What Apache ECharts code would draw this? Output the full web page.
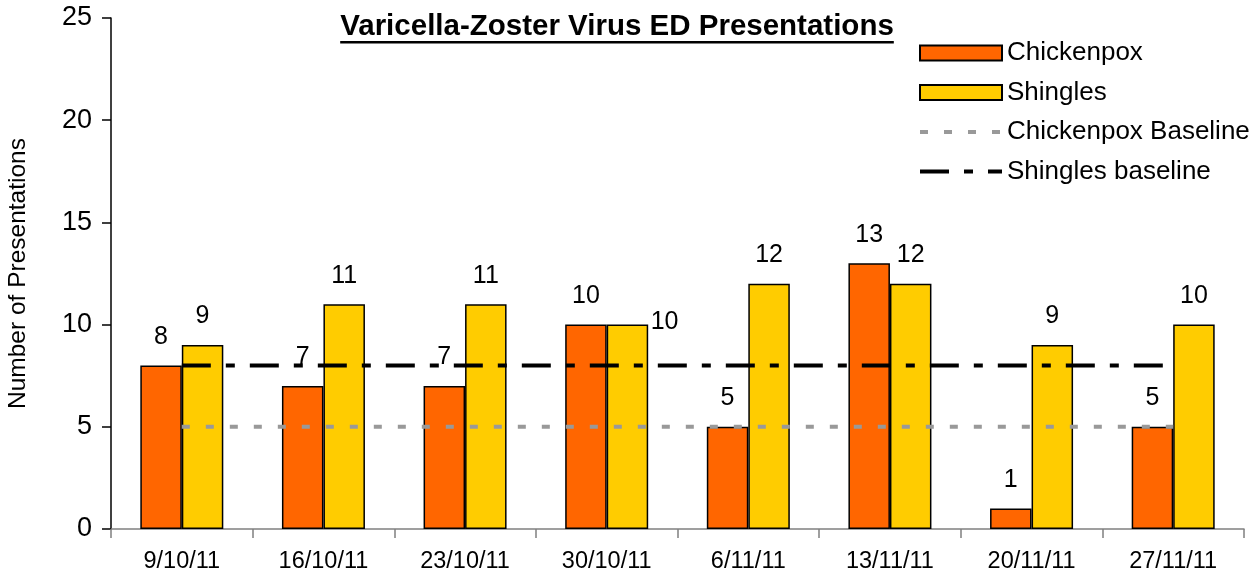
<!DOCTYPE html>
<html>
<head>
<meta charset="utf-8">
<title>Varicella-Zoster Virus ED Presentations</title>
<script src="https://cdn.jsdelivr.net/npm/echarts@6/dist/echarts.min.js"></script>
<style>
  html, body { margin: 0; padding: 0; background: #fff; }
  #chart { width: 1260px; height: 576px; }
</style>
</head>
<body>
<div id="chart"></div>
<script>
// ===== Data =====
const weeks = ['9/10/11', '16/10/11', '23/10/11', '30/10/11', '6/11/11', '13/11/11', '20/11/11', '27/11/11'];
const chickenpox = [8, 7, 7, 10, 5, 13, 1, 5];
const shingles = [9, 11, 11, 10, 12, 12, 9, 10];
const chickenpoxBaseline = [5, 5, 5, 5, 5, 5, 5, 5];
const shinglesBaseline = [8, 8, 8, 8, 8, 8, 8, 8];
const yTicks = [0, 5, 10, 15, 20, 25];

const FONT = '"Liberation Sans", Arial, sans-serif';
const TITLE = 'Varicella-Zoster Virus ED Presentations';

function initChart() {
  const chartDom = document.getElementById('chart');
  const myChart = echarts.init(chartDom, null, { renderer: 'canvas' });

  // title underline width from measured text
  const ctx = document.createElement('canvas').getContext('2d');
  ctx.font = 'bold 29.5px ' + FONT;
  const titleW = ctx.measureText(TITLE).width;
  const titleCx = 617;

  const labelStyle = {
    show: true,
    position: 'top',
    distance: 16,
    color: '#000',
    fontSize: 25,
    fontFamily: FONT
  };

  // the 30/10/11 shingles label sits beside the bar in the original
  const shinglesData = shingles.map((v, i) => i === 3
    ? { value: v, label: { position: ['106%', -2], verticalAlign: 'middle', align: 'left' } }
    : v);

  const option = {
    animation: false,
    textStyle: { fontFamily: FONT },
    graphic: [
      {
        type: 'text',
        left: titleCx - titleW / 2,
        top: 12,
        style: { text: TITLE, font: 'bold 29.5px ' + FONT, fill: '#000' }
      },
      {
        type: 'rect',
        left: titleCx - titleW / 2,
        top: 41,
        shape: { width: titleW, height: 2.5 },
        style: { fill: '#000' }
      }
    ],
    legend: {
      orient: 'vertical',
      left: 913,
      top: 35,
      itemWidth: 82,
      itemHeight: 15,
      itemGap: 13.5,
      textStyle: { color: '#000', fontSize: 26, fontFamily: FONT },
      data: [
        { name: 'Chickenpox', icon: 'rect' },
        { name: 'Shingles', icon: 'rect' },
        { name: 'Chickenpox Baseline', lineStyle: { width: 4, type: [8, 16], color: '#999999' } },
        { name: 'Shingles baseline', lineStyle: { width: 4, type: [29, 15, 9, 15], color: '#000' } }
      ]
    },
    grid: { left: 111, right: 16, top: 18, bottom: 47, containLabel: false, outerBoundsMode: 'none' },
    xAxis: {
      type: 'category',
      data: weeks,
      axisLine: { lineStyle: { color: '#808080', width: 1.5 } },
      axisTick: { show: true, length: 9, lineStyle: { color: '#808080', width: 1.5 } },
      axisLabel: { color: '#000', fontSize: 23.5, margin: 21, fontFamily: FONT }
    },
    yAxis: {
      type: 'value',
      min: yTicks[0],
      max: yTicks[yTicks.length - 1],
      interval: yTicks[1] - yTicks[0],
      name: 'Number of Presentations',
      nameLocation: 'middle',
      nameGap: 80,
      nameTextStyle: { color: '#000', fontSize: 24.5, fontFamily: FONT },
      axisLine: { show: true, lineStyle: { color: '#000', width: 1.5 } },
      axisTick: { show: true, length: 9, lineStyle: { color: '#000', width: 1.5 } },
      axisLabel: { color: '#000', fontSize: 27, margin: 19, fontFamily: FONT },
      splitLine: { show: false }
    },
    series: [
      {
        name: 'Chickenpox',
        type: 'bar',
        data: chickenpox,
        barWidth: 41.5,
        barGap: '0%',
        itemStyle: { color: '#FF6600', borderColor: '#000', borderWidth: 1.5 },
        label: labelStyle,
        z: 2
      },
      {
        name: 'Shingles',
        type: 'bar',
        data: shinglesData,
        barWidth: 41.5,
        barGap: '0%',
        itemStyle: { color: '#FFCC00', borderColor: '#000', borderWidth: 1.5 },
        label: labelStyle,
        z: 2
      },
      {
        name: 'Chickenpox Baseline',
        type: 'line',
        data: chickenpoxBaseline,
        symbol: 'none',
        lineStyle: { color: '#999999', width: 4, type: [8, 16] },
        itemStyle: { color: 'rgba(0,0,0,0)' },
        z: 5
      },
      {
        name: 'Shingles baseline',
        type: 'line',
        data: shinglesBaseline,
        symbol: 'none',
        lineStyle: { color: '#000', width: 4, type: [29, 15, 9, 15] },
        itemStyle: { color: 'rgba(0,0,0,0)' },
        z: 5
      }
    ]
  };

  myChart.setOption(option);
  window.addEventListener('resize', () => myChart.resize());
}

initChart();
</script>
</body>
</html>
